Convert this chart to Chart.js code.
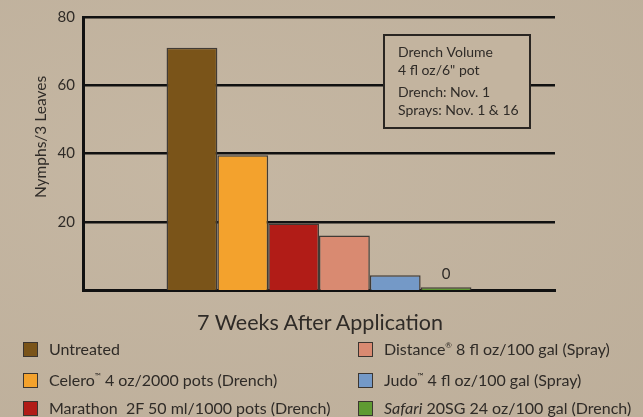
<!DOCTYPE html>
<html>
<head>
<meta charset="utf-8">
<script src="https://cdn.jsdelivr.net/npm/chart.js@4/dist/chart.umd.min.js"></script>
<style>
  html, body { margin:0; padding:0; }
  body { width:643px; height:417px; overflow:hidden; background:#c3b49f;
         background-image: radial-gradient(ellipse at 30% 40%, rgba(255,255,255,0.04), rgba(0,0,0,0.03));
         font-family: Lato, "Open Sans", sans-serif; color:#2f2b27; position:relative; }
  #wrap { position:absolute; left:0; top:0; width:643px; height:417px; }
  .xt { position:absolute; left:0; width:640px; top:308px; text-align:center; font-size:21.5px; line-height:28px; }
  .lg { position:absolute; font-size:16px; line-height:19px; white-space:nowrap; }
  .sw { position:absolute; width:13px; height:13px; border:1px solid #3b3530; }
  sup { font-size:0.5em; vertical-align:0.9em; line-height:0; }
</style>
</head>
<body>
<div id="wrap"><canvas id="c" width="643" height="417"></canvas></div>
<div class="xt" id="xtitle"></div>
<div id="legend"></div>
<script>
// ---- data ----
const categories = ['7 Weeks After Application'];
const treatments = ['Untreated', 'Celero™ 4 oz/2000 pots (Drench)', 'Marathon  2F 50 ml/1000 pots (Drench)',
                    'Distance® 8 fl oz/100 gal (Spray)', 'Judo™ 4 fl oz/100 gal (Spray)', 'Safari 20SG 24 oz/100 gal (Drench)'];
const nymphs = [71, 39.5, 19.5, 16, 4.3, 0.8];
const valueLabels = ['', '', '', '', '', '0'];
const yTicks = [20, 40, 60, 80];
const yTitle = 'Nymphs/3 Leaves';
const noteLines = [['Drench Volume', '4 fl oz/6" pot'], ['Drench: Nov. 1', 'Sprays: Nov. 1 & 16']];
// legend html (with marks/italics) built from treatments
const legendHtml = [
  'Untreated',
  'Celero<sup>™</sup> 4 oz/2000 pots (Drench)',
  'Marathon&nbsp; 2F 50 ml/1000 pots (Drench)',
  'Distance<sup>®</sup> 8 fl oz/100 gal (Spray)',
  'Judo<sup>™</sup> 4 fl oz/100 gal (Spray)',
  '<i>Safari</i> 20SG 24 oz/100 gal (Drench)'
];
// ---- styles ----
const colors = ['#7a5419', '#f3a22d', '#b11c17', '#d98a71', '#7499c7', '#5f9b32'];
const BG = '#c3b49f';
const TXT = '#2f2b27';

const datasets = treatments.map((t, i) => ({
  label: t,
  data: [nymphs[i]],
  backgroundColor: colors[i],
  borderColor: '#413b35',
  borderWidth: 1.5,
  barPercentage: 1.0,
  categoryPercentage: 0.646
}));

const overlay = {
  id: 'overlay',
  afterDatasetsDraw(chart) {
    const ctx = chart.ctx;
    ctx.save();
    // value labels
    ctx.fillStyle = TXT;
    ctx.font = '15px Lato';
    ctx.textAlign = 'center';
    ctx.textBaseline = 'bottom';
    chart.data.datasets.forEach((ds, i) => {
      if (!valueLabels[i]) return;
      const el = chart.getDatasetMeta(i).data[0];
      ctx.fillText(valueLabels[i], el.x, el.y - 6);
    });
    // note box
    const bx = 384, by = 35, bw = 146, bh = 93;
    ctx.fillStyle = BG;
    ctx.fillRect(bx, by, bw, bh);
    ctx.strokeStyle = '#2a2622';
    ctx.lineWidth = 2;
    ctx.strokeRect(bx, by, bw, bh);
    ctx.fillStyle = TXT;
    ctx.font = '14px Lato';
    ctx.textAlign = 'left';
    ctx.textBaseline = 'middle';
    ctx.fillText(noteLines[0][0], 398, 52);
    ctx.fillText(noteLines[0][1], 398, 70);
    ctx.fillText(noteLines[1][0], 398, 92);
    ctx.fillText(noteLines[1][1], 398, 110);
    // y title
    ctx.translate(41, 137);
    ctx.rotate(-Math.PI / 2);
    ctx.textAlign = 'center';
    ctx.font = '15.5px Lato';
    ctx.fillText(yTitle, 0, 0);
    ctx.restore();
  }
};

new Chart(document.getElementById('c'), {
  type: 'bar',
  data: { labels: categories, datasets },
  options: {
    responsive: false,
    animation: false,
    devicePixelRatio: 1,
    layout: { padding: { left: 0, right: 88, top: 14, bottom: 0 } },
    plugins: { legend: { display: false }, tooltip: { enabled: false } },
    scales: {
      x: {
        grid: { display: false, drawTicks: false },
        border: { display: true, color: '#111', width: 3 },
        ticks: { display: false },
        afterFit(s) { s.height = 127; }
      },
      y: {
        min: 0, max: 80,
        afterBuildTicks(s) { s.ticks = yTicks.map(v => ({ value: v })); },
        ticks: { color: TXT, font: { family: 'Lato', size: 15 }, padding: 8 },
        grid: { color: '#111', lineWidth: 2.5, drawTicks: false },
        border: { display: true, color: '#111', width: 3 },
        afterFit(s) { s.width = 83; }
      }
    }
  },
  plugins: [overlay]
});

document.getElementById('xtitle').textContent = categories[0];
const legendPos = [[23, 349], [23, 380], [23, 408], [358, 349], [358, 380], [358, 408]];
const lg = document.getElementById('legend');
legendHtml.forEach((h, i) => {
  const [x, y] = legendPos[i];
  const sw = document.createElement('div');
  sw.className = 'sw';
  sw.style.left = x + 'px'; sw.style.top = (y - 7) + 'px';
  sw.style.background = colors[i];
  lg.appendChild(sw);
  const t = document.createElement('div');
  t.className = 'lg';
  t.style.left = (x + 26) + 'px'; t.style.top = (y - 10) + 'px';
  t.innerHTML = h;
  lg.appendChild(t);
});
</script>
</body>
</html>
